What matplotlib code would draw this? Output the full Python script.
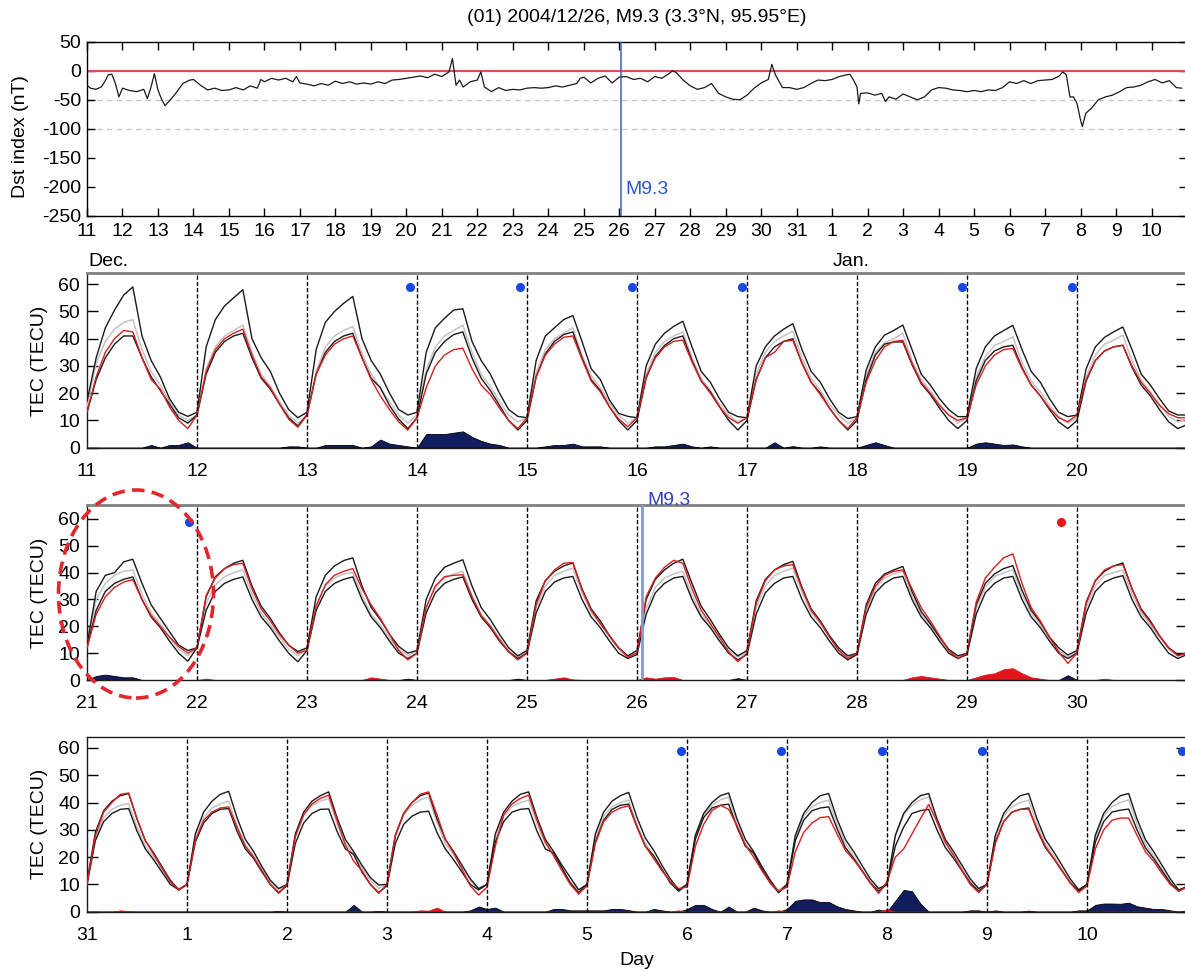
import numpy as np
import matplotlib
matplotlib.use("Agg")
import matplotlib.pyplot as plt
from matplotlib.patches import Ellipse

plt.rcParams['font.family'] = ['Liberation Sans', 'DejaVu Sans']
plt.rcParams['font.size'] = 14
plt.rcParams['axes.unicode_minus'] = False

W, H = 1185, 971

title = "(01) 2004/12/26, M9.3 (3.3°N, 95.95°E)"

# ---------------- Dst index (day offset from 11 Dec 00UT, nT) ----------------
dst_samples = [
    (0, -25), (0.1, -30), (0.25, -32), (0.4, -28), (0.5, -19), (0.6, -7), (0.7, -6), (0.8, -22),
    (0.9, -45), (1.0, -30), (1.2, -34), (1.4, -36), (1.6, -32), (1.7, -48), (1.8, -29), (1.9, -5),
    (2.0, -33), (2.1, -49), (2.2, -60), (2.35, -50), (2.5, -39), (2.7, -22), (2.9, -16), (3.0, -15),
    (3.2, -25), (3.4, -33), (3.6, -30), (3.8, -34), (4.0, -33), (4.2, -29), (4.4, -33), (4.6, -26),
    (4.8, -30), (4.9, -15), (5.0, -19), (5.2, -13), (5.4, -16), (5.6, -13), (5.8, -19), (5.9, -10),
    (6.0, -21), (6.2, -23), (6.4, -26), (6.6, -22), (6.8, -25), (7.0, -18), (7.2, -22), (7.4, -19),
    (7.6, -23), (7.8, -21), (8.0, -23), (8.2, -19), (8.4, -22), (8.6, -16), (8.8, -15), (9.0, -13),
    (9.2, -11), (9.4, -9), (9.6, -12), (9.8, -6), (10.0, -10), (10.2, -2), (10.3, 21), (10.4, -25),
    (10.5, -16), (10.6, -28), (10.8, -19), (11.0, -16), (11.1, -2), (11.2, -28), (11.4, -36), (11.6, -29),
    (11.8, -34), (12.0, -32), (12.2, -33), (12.4, -30), (12.6, -29), (12.8, -30), (13.0, -29), (13.2, -26),
    (13.4, -28), (13.6, -25), (13.8, -22), (13.9, -13), (14.0, -11), (14.2, -21), (14.4, -13), (14.6, -9),
    (14.8, -21), (15.0, -11), (15.2, -10), (15.4, -15), (15.6, -13), (15.8, -19), (16.0, -10), (16.2, -13),
    (16.4, -5), (16.5, 0), (16.6, -3), (16.8, -16), (17.0, -26), (17.2, -32), (17.4, -29), (17.6, -22),
    (17.8, -39), (18.0, -45), (18.2, -49), (18.4, -50), (18.6, -42), (18.8, -30), (19.0, -21), (19.2, -15),
    (19.3, 11), (19.4, -7), (19.6, -29), (19.8, -29), (20.0, -32), (20.2, -29), (20.4, -22), (20.6, -16),
    (20.8, -17), (21.0, -15), (21.2, -10), (21.4, -7), (21.5, -6), (21.6, -16), (21.7, -28), (21.75, -57),
    (21.8, -39), (22.0, -38), (22.2, -42), (22.4, -39), (22.5, -53), (22.6, -45), (22.8, -49), (23.0, -40),
    (23.2, -45), (23.4, -50), (23.6, -45), (23.8, -33), (24.0, -29), (24.2, -30), (24.4, -33), (24.6, -34),
    (24.8, -36), (25.0, -34), (25.2, -36), (25.4, -33), (25.6, -34), (25.8, -29), (26.0, -19), (26.2, -22),
    (26.4, -17), (26.6, -22), (26.8, -17), (27.0, -16), (27.2, -15), (27.4, -9), (27.5, -2), (27.6, -7),
    (27.7, -45), (27.8, -45), (27.9, -56), (28.0, -85), (28.05, -96), (28.15, -73), (28.3, -65), (28.5, -50),
    (28.7, -45), (28.9, -42), (29.1, -36), (29.3, -29), (29.5, -28), (29.7, -25), (29.9, -19), (30.1, -15),
    (30.3, -21), (30.5, -17), (30.7, -29), (30.85, -30),
]
dst_ticklabels = [str(d) for d in range(11, 32)] + [str(d) for d in range(1, 11)]
dst_yticks = [50, 0, -50, -100, -150, -200, -250]
eq_day_dst = 15.04          # 26 Dec 00:58 UT, days after 11 Dec
eq_label = "M9.3"

# ---------------- TEC (TECU), values every 2 h of each day ----------------
hours = [0, 2, 4, 6, 8, 10, 12, 14, 16, 18, 20, 22]

# Panel 1: 11-20 Dec
p1_labels = ['11', '12', '13', '14', '15', '16', '17', '18', '19', '20']
p1_upper = [
    [17, 33, 44, 50.5, 56, 59, 41, 32, 26, 18, 13, 11.5],
    [13, 37, 47, 52, 55, 58, 40, 33, 28, 20, 14, 11],
    [13, 36, 46, 50, 53, 55.5, 40, 32, 27, 20, 14, 12],
    [13, 35, 44, 47.5, 50.5, 51, 39, 32, 27, 20, 14, 11.5],
    [11, 32, 41, 44, 47, 48.5, 39, 29, 25, 17.5, 12.6, 11.5],
    [11, 30, 38, 42, 44.5, 46.4, 37, 28, 24, 18, 13, 11.4],
    [11, 30, 37, 41, 43.5, 45.5, 36, 28, 24, 18, 13, 10.7],
    [11.4, 28.5, 37, 41.3, 43, 45, 36, 27, 23, 18, 14, 11.4],
    [11.4, 29, 37, 41, 43, 44.9, 36, 28, 24, 18, 13, 11.4],
    [12, 29, 37, 40.5, 42.5, 44.3, 36, 27, 23, 18, 13.5, 12],
]
p1_upper_end = 12
p1_median = [
    [15, 31, 39, 43.5, 46, 47, 36, 28, 23, 17, 12, 10],
    [12, 29, 37, 41, 43, 45, 35, 27, 22.5, 17, 12, 9],
    [12, 28, 37, 41, 43, 44.5, 34.5, 27, 22, 17, 12, 9],
    [12, 28.5, 37, 41, 43, 45, 35, 27, 22.5, 17, 12, 9.5],
    [11, 27.5, 36, 40, 42, 44, 34, 26.5, 22, 16.5, 12, 9],
    [11, 27, 35, 39, 41, 42.5, 33, 25.5, 21, 16, 12, 9.5],
    [11, 27, 35, 39, 41, 42.7, 33, 25.5, 21, 16, 12, 9],
    [11, 26.5, 35, 38.5, 40, 42, 32, 25, 21, 16, 12, 9],
    [11, 26, 33.5, 37.5, 39, 40.7, 31.5, 24.5, 20.5, 15.5, 11.5, 9],
    [11, 26, 34, 38, 39.5, 41.3, 32, 25, 20.5, 16, 11.5, 9.5],
]
p1_median_end = 10.5
p1_obs = [
    [13, 26, 35, 40, 43, 42.5, 33, 25, 21.5, 15, 10, 7],
    [12, 28, 36, 40, 42, 43.5, 34, 26, 22, 16, 10.5, 7.5],
    [12, 27, 34, 38, 40, 41, 33, 25, 19, 14, 9.5, 6.5],
    [11, 22, 30, 34, 36, 36.5, 29, 23, 19.5, 14.5, 10, 7],
    [11, 26, 34, 38, 40.5, 41, 32.5, 24.5, 20.5, 15, 10.5, 7.7],
    [11, 26, 33, 37, 39, 39.5, 31.5, 24.5, 20, 15, 11, 9],
    [11, 25, 33, 35, 39, 39.4, 31, 24, 19.5, 14.5, 10, 7],
    [11, 24, 32, 37, 39, 39.4, 31, 24, 20, 15.5, 12, 10],
    [11, 23, 30, 34, 36, 36.4, 29, 23, 19, 14.5, 11, 9.5],
    [12, 25, 32, 35.5, 37, 37.6, 30, 24, 20, 15.5, 12.5, 11],
]
p1_obs_end = 11
p1_lower = [
    [13, 25, 33, 38, 41, 41, 33, 26, 21, 16, 11, 9],
    [12, 27, 35, 39, 41, 42, 33, 25.5, 21.5, 16, 11, 8],
    [12, 27, 35, 39, 41, 42, 33, 25.5, 22, 15.5, 10.5, 7],
    [11, 27, 35, 39, 41.5, 42.5, 33, 25.5, 21, 15.5, 10, 6.5],
    [10, 26, 34.5, 39, 41.5, 42.5, 33, 25, 21, 15, 10, 6.5],
    [10, 25.5, 33.5, 37.5, 40, 41, 32, 24.5, 20.5, 15, 10, 6.5],
    [10, 25, 33, 37, 39, 40, 31, 24, 20, 14.5, 10, 6.5],
    [10, 25, 34, 38, 38.8, 38.8, 30.5, 23.5, 19.5, 14.5, 10, 7],
    [10, 24.5, 32, 35.5, 37, 37.6, 29.5, 23, 19, 14, 9.5, 7],
    [10, 24.5, 32, 35.5, 37, 37.6, 29.5, 23, 19, 14, 9.5, 7],
]
p1_lower_end = 8.5
p1_blue_dots = [2.94, 3.94, 4.95, 5.95, 7.95, 8.95]
p1_red_dots = []

# Panel 2: 21-30 Dec
p2_labels = ['21', '22', '23', '24', '25', '26', '27', '28', '29', '30']
p2_upper = [
    [13, 33, 39, 40, 44, 45, 36, 28, 23, 18, 13, 11],
    [12, 31, 38.5, 41.5, 43.5, 44.6, 35, 27.5, 23, 17.5, 13, 10.6],
    [12, 31, 39, 42.5, 44.5, 45.5, 35, 27, 22.5, 17, 12.5, 10],
    [11, 30, 38, 42, 43.5, 44.8, 35, 27, 22.5, 17, 12, 9],
    [11, 29.5, 37, 40.5, 42.5, 43.6, 34, 26.5, 22, 16.5, 12, 9],
    [11, 30, 37.5, 41, 43.5, 45, 36, 27.5, 22.5, 17, 12, 9],
    [11, 29.5, 37.5, 41, 43, 44.2, 34.5, 26.5, 22, 16.5, 12, 9],
    [10, 28, 36, 39.5, 41, 42.3, 33, 25.5, 21, 16, 11.5, 9],
    [10, 28, 36, 39.5, 41.5, 42.6, 33.5, 26, 21.5, 16, 12, 9.3],
    [11, 29, 37, 40.5, 42.5, 43.6, 34, 26.5, 22, 16.5, 12, 9.5],
]
p2_upper_end = 10
p2_median = [
    [13, 30, 36, 39, 40.5, 41, 32, 25, 21, 16, 11.5, 9],
    [12, 28.5, 35.5, 38.5, 40, 41, 32, 25, 20.5, 16, 11.5, 9],
    [12, 28, 35, 38, 39.5, 40, 31.5, 24.5, 20.5, 15.5, 11.5, 9],
    [11, 27, 34.5, 38, 39.5, 40.5, 31.5, 24.5, 20.5, 15.5, 11, 8.5],
    [10.5, 27, 35, 39, 40.5, 41.7, 32.5, 25, 21, 16, 11.5, 8.5],
    [10.5, 26.5, 34.5, 38, 39.5, 40.5, 31.5, 24.5, 20.5, 15.5, 11, 8.5],
    [10.5, 27, 35, 39, 40.5, 41.7, 32.5, 25, 21, 16, 11.5, 8.5],
    [10, 26, 34, 38, 39.5, 40.5, 31.5, 24.5, 20.5, 15.5, 11, 8.5],
    [10, 26.5, 34.5, 38.5, 40, 41, 32, 25, 20.5, 15.5, 11, 8.5],
    [10.5, 27, 35, 39, 40, 41, 32, 25, 20.5, 16, 11.5, 9],
]
p2_median_end = 10
p2_obs = [
    [12, 24.5, 31, 34.5, 36.5, 37.4, 30, 24, 20, 16, 12.5, 10],
    [12, 31.5, 38, 41.5, 43, 43.5, 34, 26.5, 22, 17, 13, 10],
    [11, 27.5, 35.5, 39, 40.5, 41.5, 34, 28, 23, 17, 11, 7.5],
    [10, 27, 35, 38.5, 39, 39.2, 31, 24, 20, 15, 10.5, 7.5],
    [10, 28, 37, 41, 43.5, 43.8, 33.6, 26, 21, 16.5, 12, 8.5],
    [10, 31, 38, 42, 44.6, 43.5, 34, 26, 21, 16, 10.5, 6.8],
    [10, 28.5, 37, 41, 42.5, 43, 34, 26, 21.5, 16, 11, 8],
    [10, 27, 35, 39, 40.5, 41, 34, 27, 22, 16.5, 11, 8],
    [10, 29, 38, 42, 45.5, 47, 36, 27, 22, 16, 10.5, 6.2],
    [10, 28.5, 37, 41, 42.5, 43, 34, 26, 21.5, 16.5, 12, 9],
]
p2_obs_end = 10
p2_lower = [
    [12, 26, 33, 36, 37.5, 38.4, 30, 23.5, 19.5, 14.5, 10, 7],
    [12, 26, 33, 36, 37.5, 38.4, 30, 23.5, 19.5, 14.5, 10, 6.8],
    [11, 26, 33, 36, 37.5, 38.4, 30, 23.5, 19.5, 14.5, 10, 8],
    [10, 25, 32.5, 36, 37.5, 38.4, 30, 23.5, 19.5, 14.5, 10.5, 8],
    [10, 25, 33, 36.5, 38, 38.6, 30, 23.5, 19.5, 14.5, 10, 8],
    [9.5, 24.5, 32.5, 36, 38, 38.6, 30, 23.5, 19.5, 14.5, 10, 7.5],
    [9.5, 24.5, 32.5, 36, 38, 38.6, 30, 23.5, 19.5, 14.5, 10, 7.5],
    [9.5, 24.5, 32.5, 36, 38, 38.6, 30, 23.5, 19.5, 14.5, 10, 8],
    [9.5, 24.5, 32.5, 36, 38, 38.6, 30, 23.5, 19.5, 14.5, 10, 8],
    [10, 25, 33, 36.5, 38, 38.9, 30, 23.5, 19.5, 14.5, 10, 8],
]
p2_lower_end = 9.5
p2_blue_dots = [0.93]
p2_red_dots = [8.85]
eq_day_p2 = 5.045

# Panel 3: 31 Dec - 10 Jan
p3_labels = ['31', '1', '2', '3', '4', '5', '6', '7', '8', '9', '10']
p3_upper = [
    [11, 29, 37, 40.5, 42.5, 43.3, 34, 26, 21.5, 16.5, 11.5, 8],
    [10, 28.5, 36.5, 40.5, 43, 44.1, 34.5, 26.5, 22, 16.5, 11.5, 8.5],
    [10, 28.5, 36.5, 40.5, 42.5, 43.9, 34.5, 26.5, 22, 17, 12.5, 9.8],
    [10, 28, 36, 40, 42.5, 43.5, 34, 26.5, 22, 17, 12, 8.5],
    [10, 28.5, 36.5, 40.5, 43, 43.9, 34.5, 26.5, 22, 17, 12.5, 8],
    [10, 28.5, 36.5, 40.5, 42.5, 43.7, 34.5, 27, 22.5, 17, 12, 8],
    [10, 28, 36, 40, 42.5, 43.5, 34, 26.5, 22, 16.5, 11.5, 7],
    [10, 28, 36, 40, 42.5, 43.3, 34, 26.5, 22, 17, 12, 8.5],
    [10, 28, 36, 40, 42.5, 43.3, 34, 26.5, 22, 17, 12, 8.5],
    [10, 28, 36, 40, 42.5, 43.3, 34, 26.5, 22, 17, 12, 8],
    [10, 28, 36, 40, 42.5, 43.3, 34, 26.5, 22, 17, 12, 8],
]
p3_upper_end = 9
p3_median = [
    [10.5, 27, 34.5, 37.5, 39, 39.6, 31, 24, 20, 15.5, 11, 8.5],
    [10, 27, 34.5, 38, 39.5, 40.5, 31.5, 24.5, 20.5, 15.5, 11, 8],
    [10, 27.5, 35.5, 39, 40.5, 41.5, 32, 25, 21, 16, 11.5, 8.5],
    [10, 27.5, 35.5, 39, 41, 42, 32.5, 25, 21, 16, 11.5, 8],
    [10, 27, 35, 38.5, 40, 40.9, 32, 25, 20.5, 15.5, 11, 8],
    [10, 27, 35, 38.5, 40, 40.9, 32, 25, 20.5, 15.5, 11, 8],
    [10, 27.5, 35.5, 39, 41, 42, 32.5, 25, 21, 16, 11, 8],
    [10, 27, 35, 38.5, 40, 40.9, 32, 25, 20.5, 15.5, 11, 8],
    [10, 27.5, 35.5, 39, 41, 42, 32.5, 25, 21, 16, 11, 8],
    [10, 27, 35, 38.5, 40, 40.9, 32, 25, 20.5, 15.5, 11, 8],
    [10, 27, 35, 38.5, 40, 41, 32, 25, 20.5, 15.5, 11, 8],
]
p3_median_end = 9
p3_obs = [
    [10, 28, 36.5, 40, 43, 43.5, 34, 26, 21, 16, 11, 8],
    [10, 26, 33.5, 36.5, 38, 38.4, 31, 24, 20, 15, 10, 6.7],
    [10, 27.5, 35.5, 39.5, 41.5, 42.7, 33.5, 24.5, 18.5, 15, 10, 6.7],
    [10, 28, 36, 40, 43, 43.9, 35.5, 26.5, 21.5, 15.5, 9.5, 6.1],
    [9, 24, 35.5, 39.5, 41.5, 42.7, 33.5, 25.5, 20.5, 15, 10, 6.5],
    [9.5, 25, 33, 36.5, 38, 38.8, 31, 24, 19.5, 15, 11, 8.5],
    [9, 24, 32, 37, 39, 37.5, 31.5, 24.5, 20, 15, 10.5, 7.5],
    [9, 22, 29, 32.5, 34.5, 34.8, 28.5, 22.5, 19, 15, 10.5, 6.7],
    [11, 20, 23, 28.5, 34, 39.3, 33, 25.5, 20.5, 15, 10, 7],
    [10, 25, 33, 36.5, 37.5, 37.6, 30.5, 24, 19.5, 15, 10.5, 7],
    [9.5, 23, 30, 33.5, 34.3, 34.3, 28, 22, 18.5, 14, 10, 7.5],
]
p3_obs_end = 9
p3_lower = [
    [10, 26, 33, 36, 37.5, 37.8, 29.5, 23, 19, 14.5, 10, 8],
    [10, 25.5, 32.5, 36, 37.5, 37.8, 29.5, 23, 19.5, 14.5, 10, 7],
    [9.5, 25, 32.5, 36, 37.5, 37.6, 29.5, 23, 21, 14.5, 10, 7],
    [9.5, 25, 32, 35, 36.5, 36.8, 29, 23, 19, 14.5, 10, 8],
    [10, 25.5, 33, 36.5, 37.5, 37.8, 29.5, 23, 21.5, 16, 10.5, 7],
    [10, 25.5, 33.5, 37.5, 39, 39.4, 31, 24, 20.5, 15.5, 10.5, 7.5],
    [10, 26.5, 34.5, 38, 39, 39.4, 31, 24, 21.5, 15.5, 10.5, 7],
    [10, 26, 33.5, 37, 38, 38.4, 30.5, 23.5, 19.5, 15, 10.5, 7.5],
    [10, 24, 31, 36, 37, 37.5, 30, 23.5, 19.5, 15, 10.5, 7.5],
    [10, 25.5, 33, 36.5, 37.5, 38, 30, 23.5, 19.5, 15, 10.5, 7.5],
    [10, 25.5, 33, 36.5, 37.2, 37.6, 30, 23.5, 19.5, 15, 10.5, 7.5],
]
p3_lower_end = 9.5
p3_blue_dots = [5.94, 6.94, 7.95, 8.95, 10.95]
p3_red_dots = []

# ---------------- styling ----------------
C_BLACK = '#1a1a1a'
C_RED = '#d81e1e'
C_GREY = '#c4c4c4'
C_NAVY = '#111d5e'
C_BLUE_DOT = '#1747e6'


def rect(l, t, r, b):
    return [l / W, 1 - b / H, (r - l) / W, (b - t) / H]


def series(rows, end):
    x = [i + h / 24.0 for i in range(len(rows)) for h in hours] + [len(rows)]
    y = [v for row in rows for v in row] + [end]
    return np.array(x), np.array(y, dtype=float)


fig = plt.figure(figsize=(W / 100, H / 100), dpi=100)

# ---- Dst panel ----
ax0 = fig.add_axes(rect(87, 41.7, 1187, 216))
dx = np.array([d for d, v in dst_samples])
dv = np.array([v for d, v in dst_samples])
ax0.axhline(-50, color='#c8c8c8', lw=1, ls=(0, (4, 3)), zorder=1)
ax0.axhline(-100, color='#c8c8c8', lw=1, ls=(0, (4, 3)), zorder=1)
ax0.axhline(0, color='#d9505e', lw=1.6, zorder=2)
ax0.plot(dx, dv, color=C_BLACK, lw=0.9, zorder=3)
ax0.axvline(eq_day_dst, color='#3d5bd6', lw=1.1, zorder=4)
ax0.text(eq_day_dst + 0.12, -204, eq_label, color='#2f55d4', ha='left', va='center', fontsize=14)
ax0.set_xlim(0, 31)
ax0.set_ylim(-250, 50)
ax0.set_xticks(range(len(dst_ticklabels)))
ax0.set_xticklabels(dst_ticklabels)
ax0.set_yticks(dst_yticks)
ax0.tick_params(axis='x', direction='in', top=True, bottom=True, length=6, width=1, pad=5)
ax0.tick_params(axis='y', direction='in', left=True, right=True, length=6, width=1, pad=4)
for s in ax0.spines.values():
    s.set_linewidth(1.0)
fig.text(21 / W, 1 - 137 / H, 'Dst index (nT)', rotation=90, ha='center', va='center', fontsize=14)
fig.text(88 / W, 1 - 262 / H, 'Dec.', ha='left', va='center', fontsize=14)
fig.text(833 / W, 1 - 262 / H, 'Jan.', ha='left', va='center', fontsize=14)
fig.text(637 / W, 1 - 17 / H, title, ha='center', va='center', fontsize=14)


def tec_panel(box, upper, upper_end, median, median_end, obs, obs_end, lower, lower_end,
              labels, blue_dots, red_dots, ymax, grey_top):
    ax = fig.add_axes(rect(*box))
    n = len(labels)
    xu, yu = series(upper, upper_end)
    xm, ym = series(median, median_end)
    xo, yo = series(obs, obs_end)
    xl, yl = series(lower, lower_end)
    neg = np.clip(yl - yo, 0, None)
    pos = np.clip(yo - yu, 0, None)
    ax.fill_between(xo, 0, neg, facecolor=C_NAVY, edgecolor='#000000', lw=0.6, zorder=2)
    ax.fill_between(xo, 0, pos, facecolor='#e4141c', edgecolor='#e4141c', lw=0.6, zorder=2)
    ax.plot(xm, ym, color=C_GREY, lw=1.1, zorder=3)
    ax.plot(xu, yu, color=C_BLACK, lw=1.0, zorder=4)
    ax.plot(xl, yl, color=C_BLACK, lw=1.0, zorder=4)
    ax.plot(xo, yo, color=C_RED, lw=1.0, zorder=5)
    for d in range(1, n):
        ax.axvline(d, color='k', lw=1.0, ls=(0, (3, 1.5)), zorder=6)
    if blue_dots:
        ax.plot(blue_dots, [59] * len(blue_dots), 'o', color=C_BLUE_DOT, ms=5.5, zorder=7,
                clip_on=False)
    if red_dots:
        ax.plot(red_dots, [59] * len(red_dots), 'o', color='#e8141c', ms=5.5, zorder=7)
    ax.set_xlim(0, n)
    ax.set_ylim(0, ymax)
    ax.set_xticks(range(n))
    ax.set_xticklabels(labels)
    ax.set_yticks([0, 10, 20, 30, 40, 50, 60])
    ax.tick_params(axis='x', length=0, pad=11)
    ax.tick_params(axis='y', direction='in', left=True, right=True, length=8, width=1, pad=5)
    for s in ax.spines.values():
        s.set_linewidth(1.0)
        s.set_color(C_BLACK)
    if grey_top:
        ax.spines['top'].set_color('#808080')
        ax.spines['top'].set_linewidth(2.0)
    cy = (box[1] + box[3]) / 2
    fig.text(40 / W, 1 - cy / H, 'TEC (TECU)', rotation=90, ha='center', va='center', fontsize=14)
    return ax


ax1 = tec_panel((87, 273.3, 1187, 447.7), p1_upper, p1_upper_end, p1_median, p1_median_end,
                p1_obs, p1_obs_end, p1_lower, p1_lower_end, p1_labels, p1_blue_dots, p1_red_dots,
                64, True)
ax2 = tec_panel((87, 505, 1187, 680), p2_upper, p2_upper_end, p2_median, p2_median_end,
                p2_obs, p2_obs_end, p2_lower, p2_lower_end, p2_labels, p2_blue_dots, p2_red_dots,
                65.2, True)
ax2.axvline(eq_day_p2, color='#7f9ad6', lw=2.0, zorder=6)
ax2.text(eq_day_p2 + 0.05, 66.8, eq_label, color='#3042b5', ha='left', va='center',
         fontsize=14, clip_on=False, zorder=8)
ax3 = tec_panel((87, 737, 1187, 911.7), p3_upper, p3_upper_end, p3_median, p3_median_end,
                p3_obs, p3_obs_end, p3_lower, p3_lower_end, p3_labels, p3_blue_dots, p3_red_dots,
                64, False)
fig.text(637 / W, 1 - 960 / H, 'Day', ha='center', va='center', fontsize=14)

# dashed red ellipse annotation around 21 Dec
ell = Ellipse((136 / W, 1 - 594 / H), 155 / W, 208 / H, transform=fig.transFigure,
              fill=False, edgecolor='#e3262e', lw=2.6, ls=(0, (3.5, 2)), zorder=20)
fig.add_artist(ell)

fig.savefig('out.png', dpi=100)
